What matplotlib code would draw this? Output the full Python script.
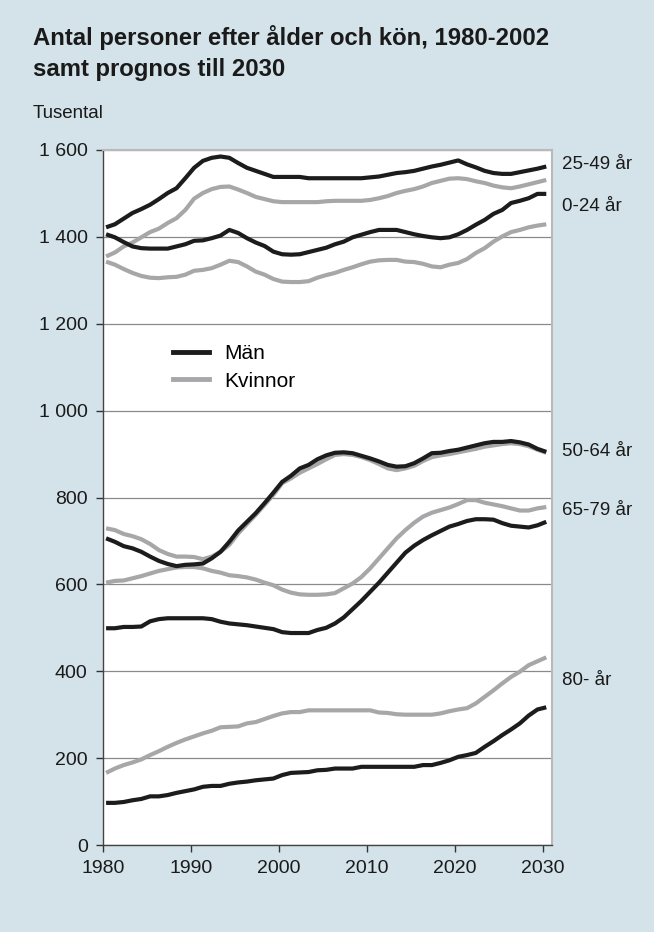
import numpy as np
import matplotlib
matplotlib.use("Agg")
import matplotlib.pyplot as plt
from matplotlib.ticker import FixedLocator, FuncFormatter

# ---- data (tusental), 1980-2030 ----
years = np.arange(1980, 2031)

man_0_24 = [1406, 1399, 1388, 1378, 1374, 1373, 1373, 1373, 1378, 1383,
            1391, 1392, 1397, 1403, 1416, 1409, 1397, 1387, 1379, 1366,
            1360, 1359, 1360, 1365, 1370, 1375, 1383, 1389, 1399, 1405,
            1411, 1416, 1416, 1416, 1411, 1406, 1402, 1399, 1397, 1399,
            1406, 1416, 1428, 1439, 1453, 1462, 1478, 1483, 1489, 1499, 1499]
kv_0_24 = [1343, 1336, 1326, 1317, 1310, 1306, 1305, 1307, 1308, 1313,
           1322, 1324, 1328, 1336, 1345, 1342, 1332, 1320, 1313, 1303,
           1297, 1296, 1296, 1298, 1306, 1312, 1317, 1324, 1330, 1337,
           1343, 1346, 1347, 1347, 1343, 1342, 1338, 1332, 1330, 1336,
           1340, 1349, 1363, 1374, 1389, 1401, 1411, 1416, 1422, 1426, 1429]

man_25_49 = [1422, 1429, 1442, 1455, 1464, 1474, 1487, 1501, 1512, 1535,
             1559, 1575, 1582, 1585, 1582, 1570, 1559, 1552, 1545, 1538,
             1538, 1538, 1538, 1535, 1535, 1535, 1535, 1535, 1535, 1535,
             1537, 1539, 1543, 1547, 1549, 1552, 1557, 1562, 1566, 1571,
             1576, 1567, 1560, 1552, 1547, 1545, 1545, 1549, 1553, 1557, 1562]
kv_25_49 = [1355, 1364, 1378, 1387, 1399, 1411, 1419, 1432, 1443, 1462,
            1488, 1501, 1510, 1515, 1516, 1509, 1501, 1492, 1487, 1482,
            1480, 1480, 1480, 1480, 1480, 1482, 1483, 1483, 1483, 1483,
            1485, 1489, 1494, 1501, 1506, 1510, 1516, 1524, 1529, 1534,
            1535, 1533, 1528, 1524, 1518, 1514, 1512, 1516, 1521, 1526, 1531]

man_50_64 = [706, 698, 688, 683, 675, 664, 654, 647, 642, 645,
             646, 648, 660, 675, 698, 724, 744, 764, 787, 811,
             836, 850, 867, 875, 888, 897, 903, 904, 902, 896,
             890, 883, 875, 871, 872, 879, 890, 902, 903, 907,
             910, 915, 920, 925, 928, 928, 930, 927, 922, 912, 905]
kv_50_64 = [729, 725, 716, 711, 704, 693, 679, 670, 664, 664,
            663, 658, 664, 675, 691, 717, 739, 760, 783, 806,
            833, 844, 857, 867, 877, 888, 898, 900, 898, 893,
            886, 877, 867, 863, 867, 873, 884, 893, 897, 900,
            904, 908, 912, 917, 920, 923, 925, 923, 918, 910, 903]

man_65_79 = [499, 499, 502, 502, 503, 515, 520, 522, 522, 522,
             522, 522, 520, 514, 510, 508, 506, 503, 500, 497,
             490, 488, 488, 488, 495, 500, 510, 524, 543, 562,
             583, 604, 627, 650, 673, 689, 702, 713, 723, 733,
             739, 746, 750, 750, 749, 741, 735, 733, 731, 736, 744]
kv_65_79 = [604, 608, 609, 614, 619, 625, 631, 635, 639, 640,
            640, 637, 631, 627, 621, 619, 616, 611, 604, 598,
            588, 581, 577, 576, 576, 577, 580, 591, 602, 617,
            637, 660, 683, 706, 725, 742, 756, 765, 771, 777,
            785, 794, 794, 788, 784, 780, 775, 770, 770, 775, 778]

man_80 = [97, 97, 99, 103, 106, 112, 112, 115, 120, 124,
          128, 134, 136, 136, 141, 144, 146, 149, 151, 153,
          161, 166, 167, 168, 172, 173, 176, 176, 176, 180,
          180, 180, 180, 180, 180, 180, 184, 184, 189, 195,
          203, 207, 212, 226, 239, 253, 266, 280, 298, 312, 317]
kv_80 = [166, 176, 184, 190, 197, 207, 216, 226, 235, 243,
         250, 257, 263, 271, 272, 273, 280, 283, 290, 297,
         303, 306, 306, 310, 310, 310, 310, 310, 310, 310,
         310, 305, 304, 301, 300, 300, 300, 300, 303, 308,
         312, 315, 326, 341, 356, 372, 387, 399, 414, 423, 432]

groups = ["0-24 år", "25-49 år", "50-64 år", "65-79 år", "80- år"]
men = [man_0_24, man_25_49, man_50_64, man_65_79, man_80]
women = [kv_0_24, kv_25_49, kv_50_64, kv_65_79, kv_80]
label_y = [1469, 1566, 907, 771, 379]

y_ticks = [0, 200, 400, 600, 800, 1000, 1200, 1400, 1600]
x_ticks = [1980, 1990, 2000, 2010, 2020, 2030]

# ---- style ----
BG = "#d3e3e9"
BLACK = "#1c1c1c"
GREY = "#a7a7a9"
FONT = ["Liberation Sans", "DejaVu Sans"]
plt.rcParams["font.family"] = FONT

fig = plt.figure(figsize=(6.54, 9.32), dpi=100, facecolor=BG)
ax = fig.add_axes([103 / 654, 1 - 845 / 932, 449 / 654, 695 / 932])
ax.set_facecolor("white")

# points sit a bit right of the year tick, like the original category axis
xs = years + 0.35
for w in women:
    ax.plot(xs, w, color=GREY, lw=3.0, solid_capstyle="butt")
for m in men:
    ax.plot(xs, m, color=BLACK, lw=3.0, solid_capstyle="butt")

for g, yv in zip(groups, label_y):
    ax.text(1.022, yv, g, transform=ax.get_yaxis_transform(),
            fontsize=13.5, color="#1a1a1a", va="center", ha="left")

ax.set_xlim(1980, 2031)
ax.set_ylim(0, 1600)
ax.yaxis.set_major_locator(FixedLocator(y_ticks))
ax.xaxis.set_major_locator(FixedLocator(x_ticks))
ax.yaxis.set_major_formatter(FuncFormatter(
    lambda v, p: f"{int(v):,}".replace(",", " ")))
ax.grid(axis="y", color="#8a8a8a", lw=0.9)
ax.set_axisbelow(True)
ax.tick_params(axis="both", labelsize=14, colors="#333333",
               labelcolor="#1a1a1a", length=5, width=1, pad=6)
for s in ["top", "right"]:
    ax.spines[s].set_color("#b9b9b9")
    ax.spines[s].set_linewidth(1.5)
for s in ["left", "bottom"]:
    ax.spines[s].set_color("#444444")
    ax.spines[s].set_linewidth(1.0)

# legend
h_m, = ax.plot([], [], color=BLACK, lw=3.5)
h_k, = ax.plot([], [], color=GREY, lw=3.5)
ax.legend([h_m, h_k], ["Män", "Kvinnor"], loc="upper left",
          bbox_to_anchor=(0.115, 0.748), frameon=False, fontsize=15,
          handlelength=1.7, handletextpad=0.75, labelspacing=0.42)

fig.text(33 / 654, 1 - 25 / 932,
         "Antal personer efter ålder och kön, 1980-2002\nsamt prognos till 2030",
         fontsize=17.2, fontweight="bold", color="#1a1a1a",
         va="top", ha="left", linespacing=1.42)
fig.text(33 / 654, 1 - 113 / 932, "Tusental", fontsize=13.5,
         color="#1a1a1a", va="center", ha="left")

fig.savefig("out.png", dpi=100, facecolor=BG)
